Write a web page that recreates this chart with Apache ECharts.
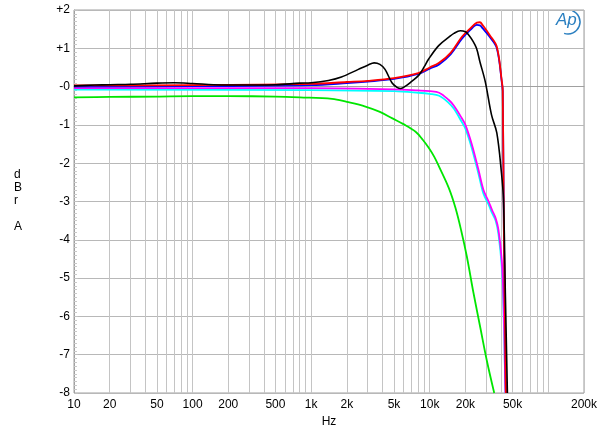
<!DOCTYPE html>
<html><head><meta charset="utf-8">
<script src="https://cdn.jsdelivr.net/npm/echarts@6/dist/echarts.min.js"></script>
<style>html,body{margin:0;padding:0;background:#fff}#c{width:600px;height:439px}</style>
</head><body><div id="c"></div>
<script>
// ---- data (frequency in Hz, level in dBr A) ----
var blackFreq = [10,15,20,30,50,70,100,150,200,500,800,1000,1400,1800,2500,3000,3400,3800,4200,4800,5300,5700,6300,7000,8100,9000,9800,11900,14500,16000,18100,20000,21300,22800,24800,26500,29400,33200,36800,40300,41900,43500,45200];
var blackDb   = [0.02,0.04,0.05,0.06,0.09,0.10,0.08,0.05,0.04,0.05,0.09,0.10,0.16,0.25,0.45,0.56,0.62,0.58,0.45,0.10,-0.02,-0.05,0.02,0.13,0.30,0.52,0.72,1.07,1.29,1.39,1.46,1.43,1.35,1.22,1.00,0.65,0.13,-0.74,-1.21,-2.26,-2.96,-5.50,-8.00];

var redFreq = [10,100,1000,2000,3000,5000,8000,10000,12000,15000,18700,22000,25000,26500,28000,32000,36800,40600,41300,42200,43900];
var redDb   = [0.03,0.04,0.07,0.12,0.15,0.22,0.35,0.50,0.62,0.88,1.30,1.52,1.67,1.68,1.60,1.35,1.04,0.13,-0.10,-3.74,-8.00];

var blueFreq = [10,100,1000,2000,3000,5000,8000,10000,12000,15000,18700,22000,25000,26500,28000,32000,36800,40600,41300,42200,43900];
var blueDb   = [0.00,0.01,0.04,0.09,0.13,0.20,0.33,0.47,0.58,0.84,1.25,1.48,1.61,1.60,1.52,1.30,1.00,0.10,-0.12,-3.74,-8.00];

var magentaFreq = [10,1000,5000,8000,10000,12000,14500,16000,18600,20000,22600,25800,28400,31400,33500,36000,38000,40500,41900,43500];
var magentaDb   = [-0.04,-0.04,-0.07,-0.10,-0.12,-0.16,-0.35,-0.50,-0.82,-1.00,-1.50,-2.18,-2.70,-3.00,-3.22,-3.44,-3.74,-4.53,-5.57,-8.00];

var cyanFreq = [10,1000,5000,8000,10000,12000,14500,16000,18600,20000,22600,25800,28400,31400,33500,36000,38000,40500,41900,43500];
var cyanDb   = [-0.08,-0.09,-0.12,-0.16,-0.19,-0.24,-0.43,-0.58,-0.92,-1.10,-1.60,-2.28,-2.80,-3.08,-3.30,-3.50,-3.85,-4.70,-5.80,-8.00];

var greenFreq = [10,20,50,100,200,500,800,1500,2000,2870,3800,4850,6000,7600,8700,9870,10900,11900,14500,16500,18400,20600,23400,26700,30300,35000];
var greenDb   = [-0.28,-0.27,-0.26,-0.25,-0.25,-0.26,-0.28,-0.32,-0.40,-0.52,-0.66,-0.83,-0.98,-1.18,-1.38,-1.61,-1.83,-2.07,-2.65,-3.17,-3.75,-4.45,-5.39,-6.29,-7.15,-8.00];

var xGridValues = [10,20,30,40,50,60,70,80,90,100,200,300,400,500,600,700,800,900,1000,2000,3000,4000,5000,6000,7000,8000,9000,10000,20000,30000,40000,50000,60000,70000,80000,90000,100000,200000];
var xLabelValues = [10,20,50,100,200,500,1000,2000,5000,10000,20000,50000,200000];

function pairs(f, d){ return f.map(function(v,i){ return [v, d[i]]; }); }
function mk(name, color, f, d, w){
  return {name:name, type:'line', data:pairs(f,d), showSymbol:false, symbol:'none',
    smooth:0.35, lineStyle:{color:color, width:w}, itemStyle:{color:color}, silent:true, clip:true};
}

var chart = echarts.init(document.getElementById('c'));
chart.setOption({
  animation:false,
  backgroundColor:'#fff',
  grid:{left:74, right:14, top:10, bottom:46, show:true, borderColor:'#a0a0a0', borderWidth:1},
  xAxis:{type:'log', logBase:10, min:10, max:200000,
    name:'Hz', nameLocation:'middle', nameGap:22,
    nameTextStyle:{fontFamily:'Liberation Sans', fontSize:12, color:'#000'},
    axisLine:{show:true, lineStyle:{color:'#a0a0a0'}},
    axisTick:{show:false, customValues:xGridValues},
    axisLabel:{customValues:xLabelValues, fontFamily:'Liberation Sans', fontSize:12, color:'#000', margin:6,
      formatter:function(v){ v=Math.round(v); return v>=1000 ? (v/1000)+'k' : String(v); }},
    splitLine:{show:true, lineStyle:{color:'#c4c4c4', width:1}}
  },
  yAxis:{type:'value', min:-8, max:2, interval:1,
    axisLine:{show:true, lineStyle:{color:'#a0a0a0'}},
    axisTick:{show:true, inside:true, length:4, lineStyle:{color:'#c0c0c0'}},
    minorTick:{show:true, splitNumber:10, length:3, lineStyle:{color:'#c8c8c8'}},
    axisLabel:{fontFamily:'Liberation Sans', fontSize:12, color:'#000', margin:4,
      formatter:function(v){ return v>0 ? '+'+v : (v===0 ? '-0' : String(v)); }},
    splitLine:{show:true, lineStyle:{color:'#b8b8b8', width:1}}
  },
  graphic:[
    {type:'text', left:14, top:168, style:{text:'d\nB\nr\n\nA', fontFamily:'Liberation Sans', fontSize:12, lineHeight:13, fill:'#000', align:'center'}},
    {type:'text', left:556, top:12, style:{text:'Ap', fontFamily:'Liberation Sans', fontStyle:'italic', fontSize:17, fill:'#2a7fc0'}},
    {type:'arc', shape:{cx:568, cy:22, r:12, startAngle:-1.2, endAngle:1.9}, style:{stroke:'#2a7fc0', lineWidth:1.5, fill:null}}
  ],
  series:[
    mk('green','#00e600',greenFreq,greenDb,1.8),
    mk('cyan','#00ffff',cyanFreq,cyanDb,1.8),
    mk('magenta','#ff00ff',magentaFreq,magentaDb,1.8),
    mk('blue','#0000ff',blueFreq,blueDb,1.8),
    mk('red','#ff0000',redFreq,redDb,1.8),
    mk('black','#000000',blackFreq,blackDb,1.6)
  ]
});
</script></body></html>
